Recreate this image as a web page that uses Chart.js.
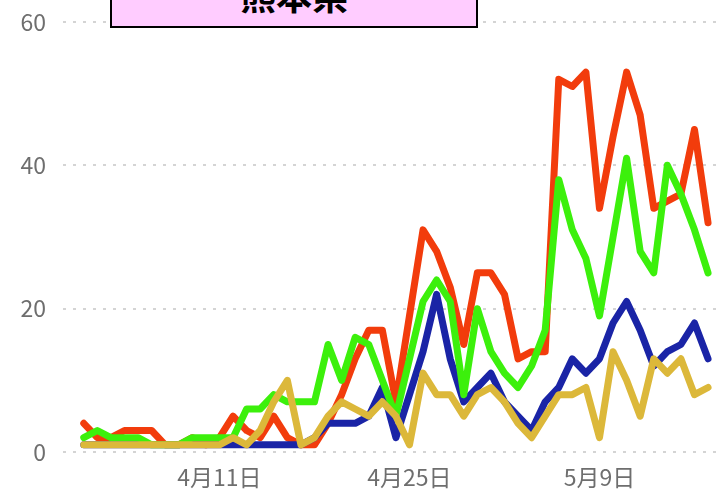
<!DOCTYPE html>
<html>
<head>
<meta charset="utf-8">
<script src="https://cdn.jsdelivr.net/npm/chart.js@4.4.1/dist/chart.umd.min.js"></script>
<style>
  html, body { margin: 0; padding: 0; background: #fff; overflow: hidden; }
  #wrap { position: relative; width: 717px; height: 489px; overflow: hidden; }
  #c { position: absolute; left: 0; top: 0; }
  #titlebox {
    position: absolute; left: 110px; top: -20px; width: 364px; height: 44px;
    background: #ffccff; border: 2px solid #000; overflow: hidden;
  }
  #titletext {
    position: absolute; left: 0; right: 0; top: -6px; text-align: center;
    font-family: "Noto Sans CJK JP", sans-serif; font-weight: bold; font-size: 36px;
    line-height: 36px; color: #000;
  }
</style>
</head>
<body>
<div id="wrap">
  <canvas id="c" width="717" height="489"></canvas>
  <div id="titlebox"><div id="titletext">熊本県</div></div>
</div>
<script>
const dateLabels = ['4月1日','4月2日','4月3日','4月4日','4月5日','4月6日','4月7日','4月8日','4月9日','4月10日',
  '4月11日','4月12日','4月13日','4月14日','4月15日','4月16日','4月17日','4月18日','4月19日','4月20日',
  '4月21日','4月22日','4月23日','4月24日','4月25日','4月26日','4月27日','4月28日','4月29日','4月30日',
  '5月1日','5月2日','5月3日','5月4日','5月5日','5月6日','5月7日','5月8日','5月9日','5月10日',
  '5月11日','5月12日','5月13日','5月14日','5月15日','5月16日','5月17日'];
const tickLabels = ['4月11日','4月25日','5月9日'];
const yTicks = [0, 20, 40, 60];

const seriesRed = [4,2,2,3,3,3,1,1,2,1, 2,5,3,2,5,2,1,1,4,8, 13,17,17,7,19,31,28,23,15,25, 25,22,13,14,14,52,51,53,34,44, 53,47,34,35,36,45,32];
const seriesGreen = [2,3,2,2,2,1,1,1,2,2, 2,2,6,6,8,7,7,7,15,10, 16,15,10,5,13,21,24,21,8,20, 14,11,9,12,17,38,31,27,19,30, 41,28,25,40,36,31,25];
const seriesBlue = [1,1,1,1,1,1,1,1,1,1, 1,1,1,1,1,1,1,2,4,4, 4,5,9,2,8,14,22,13,7,9, 11,7,5,3,7,9,13,11,13,18, 21,17,12,14,15,18,13];
const seriesYellow = [1,1,1,1,1,1,1,1,1,1, 1,2,1,3,7,10,1,2,5,7, 6,5,7,5,1,11,8,8,5,8, 9,7,4,2,5,8,8,9,2,14, 10,5,13,11,13,8,9];

function toPoints(arr) { return arr.map((v, i) => ({ x: i, y: v })); }
function ds(data, color) {
  return { data: toPoints(data), borderColor: color, backgroundColor: color, borderWidth: 7,
    pointRadius: 0, tension: 0, fill: false, borderJoinStyle: 'round', borderCapStyle: 'round' };
}

const tickFont = { family: '"Noto Sans CJK JP", sans-serif', size: 23 };

new Chart(document.getElementById('c'), {
  type: 'line',
  data: {
    datasets: [
      ds(seriesYellow, '#dcb83a'),
      ds(seriesGreen, '#3cf00c'),
      ds(seriesBlue, '#1a24a6'),
      ds(seriesRed, '#f23c0c')
    ]
  },
  options: {
    responsive: false,
    devicePixelRatio: 1,
    animation: false,
    layout: { padding: { top: 22, left: 0, right: 0, bottom: 0 } },
    plugins: { legend: { display: false }, tooltip: { enabled: false }, title: { display: false } },
    scales: {
      x: {
        type: 'linear',
        min: -1.53,
        max: 46.66,
        grid: { display: false, drawTicks: false },
        border: { display: false },
        afterBuildTicks: (scale) => {
          scale.ticks = tickLabels.map(l => ({ value: dateLabels.indexOf(l) }));
        },
        afterFit: (scale) => { scale.height = 37; scale.paddingLeft = 0; scale.paddingRight = 0; },
        ticks: {
          autoSkip: false,
          maxRotation: 0,
          padding: 11,
          color: '#6e6e6e',
          font: tickFont,
          callback: (v) => dateLabels[v] || ''
        }
      },
      y: {
        min: 0,
        max: 60,
        afterBuildTicks: (scale) => { scale.ticks = yTicks.map(v => ({ value: v })); },
        afterFit: (scale) => { scale.width = 63; scale.paddingTop = 10; scale.paddingBottom = 10; },
        grid: { color: '#d4d4d4', lineWidth: 2, drawTicks: false },
        border: { display: false, dash: [3, 7] },
        ticks: { padding: 17, color: '#6e6e6e', font: tickFont }
      }
    }
  }
});
</script>
</body>
</html>
